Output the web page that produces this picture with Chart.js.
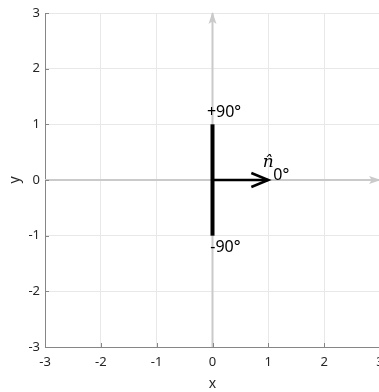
<!DOCTYPE html>
<html>
<head>
<meta charset="utf-8">
<script src="https://cdn.jsdelivr.net/npm/chart.js@4"></script>
<style>
  html, body { margin: 0; padding: 0; background: #fff; overflow: hidden; }
  #wrap { position: absolute; left: 0; top: 0; width: 400px; height: 392px; }
</style>
</head>
<body>
<div id="wrap"><canvas id="c"></canvas></div>
<script>
// ---- data ----
const xTicks = [-3, -2, -1, 0, 1, 2, 3];
const yTicks = [-3, -2, -1, 0, 1, 2, 3];
const xAxisArrowX = [-3, 3];
const xAxisArrowY = [0, 0];
const yAxisArrowX = [0, 0];
const yAxisArrowY = [-3, 3];
const plateX = [0, 0];
const plateY = [-1, 1];
const normalX = [0, 1];
const normalY = [0, 0];
const labelTexts = ['+90°', '-90°', '0°', 'n̂'];
const labelX = [-0.1, -0.04, 1.09, 0.9];
const labelY = [1.21, -1.21, 0.09, 0.32];

const pts = (xs, ys) => xs.map((x, i) => ({ x: x, y: ys[i] }));

const FONT = '"Noto Sans", "Open Sans", sans-serif';
const AXIS = '#868686';
const TXT = '#262626';

const arrowPlugin = {
  id: 'arrows',
  afterDatasetsDraw(chart) {
    const ctx = chart.ctx;
    const xs = chart.scales.x, ys = chart.scales.y;
    chart.data.datasets.forEach((ds) => {
      if (!ds.arrow) return;
      const d = ds.data;
      const a = d[d.length - 2], b = d[d.length - 1];
      const x0 = xs.getPixelForValue(a.x), y0 = ys.getPixelForValue(a.y);
      const x1 = xs.getPixelForValue(b.x), y1 = ys.getPixelForValue(b.y);
      const ang = Math.atan2(y1 - y0, x1 - x0);
      const L = ds.arrow.len, W = ds.arrow.half;
      const bx = x1 - L * Math.cos(ang), by = y1 - L * Math.sin(ang);
      const px = -Math.sin(ang), py = Math.cos(ang);
      ctx.save();
      ctx.strokeStyle = ds.borderColor;
      ctx.fillStyle = ds.borderColor;
      if (ds.arrow.filled) {
        ctx.beginPath();
        ctx.moveTo(x1 + 1 * Math.cos(ang), y1 + 1 * Math.sin(ang));
        ctx.lineTo(bx + W * px, by + W * py);
        ctx.lineTo(bx + (L * 0.25) * Math.cos(ang), by + (L * 0.25) * Math.sin(ang));
        ctx.lineTo(bx - W * px, by - W * py);
        ctx.closePath();
        ctx.fill();
      } else {
        ctx.lineWidth = ds.borderWidth;
        ctx.lineCap = 'butt';
        ctx.lineJoin = 'miter';
        ctx.beginPath();
        ctx.moveTo(bx + W * px, by + W * py);
        ctx.lineTo(x1, y1);
        ctx.lineTo(bx - W * px, by - W * py);
        ctx.stroke();
      }
      ctx.restore();
    });
  },
  afterDraw(chart) {
    const ctx = chart.ctx;
    const xs = chart.scales.x, ys = chart.scales.y;
    const area = chart.chartArea;
    ctx.save();
    // inward tick marks
    ctx.strokeStyle = AXIS;
    ctx.lineWidth = 1;
    ctx.beginPath();
    xTicks.forEach((v) => {
      const p = Math.round(xs.getPixelForValue(v)) + 0.5;
      ctx.moveTo(p, area.bottom);
      ctx.lineTo(p, area.bottom - 4);
    });
    yTicks.forEach((v) => {
      const p = Math.round(ys.getPixelForValue(v)) + 0.5;
      ctx.moveTo(area.left, p);
      ctx.lineTo(area.left + 4, p);
    });
    ctx.stroke();
    // annotations
    ctx.fillStyle = '#000';
    ctx.textAlign = 'left';
    ctx.textBaseline = 'middle';
    labelTexts.forEach((t, i) => {
      ctx.font = (t === 'n̂') ? 'italic 17px "DejaVu Serif", serif' : '16px ' + FONT;
      ctx.fillText(t, xs.getPixelForValue(labelX[i]), ys.getPixelForValue(labelY[i]));
    });
    ctx.restore();
  }
};

new Chart(document.getElementById('c'), {
  type: 'scatter',
  data: {
    datasets: [
      { data: pts(plateX, plateY), showLine: true, borderColor: '#000', borderWidth: 4, pointRadius: 0, order: 1 },
      { data: pts(normalX, normalY), showLine: true, borderColor: '#000', borderWidth: 2.5, pointRadius: 0, order: 1,
        arrow: { len: 17, half: 7, filled: false } },
      { data: pts(xAxisArrowX, xAxisArrowY), showLine: true, borderColor: '#cacaca', borderWidth: 2, pointRadius: 0, order: 3,
        arrow: { len: 11, half: 4, filled: true } },
      { data: pts(yAxisArrowX, yAxisArrowY), showLine: true, borderColor: '#cacaca', borderWidth: 2, pointRadius: 0, order: 3,
        arrow: { len: 11, half: 4, filled: true } }
    ]
  },
  options: {
    responsive: true,
    maintainAspectRatio: false,
    animation: false,
    devicePixelRatio: 1,
    layout: { padding: { top: 13, right: 20, left: 0, bottom: 0 } },
    plugins: { legend: { display: false }, tooltip: { enabled: false } },
    scales: {
      x: {
        type: 'linear', min: -3, max: 3,
        afterFit: (s) => { s.height = 45; },
        afterBuildTicks: (s) => { s.ticks = xTicks.map((v) => ({ value: v })); },
        grid: { color: '#e8e8e8', drawTicks: false, lineWidth: 1 },
        border: { color: AXIS, width: 1 },
        ticks: { color: TXT, font: { family: FONT, size: 13 }, padding: 7, maxRotation: 0 },
        title: { display: true, text: 'x', color: TXT, font: { family: FONT, size: 14 }, padding: { top: 0, bottom: 0 } }
      },
      y: {
        type: 'linear', min: -3, max: 3,
        afterFit: (s) => { s.width = 45; },
        afterBuildTicks: (s) => { s.ticks = yTicks.map((v) => ({ value: v })); },
        grid: { color: '#e8e8e8', drawTicks: false, lineWidth: 1 },
        border: { color: AXIS, width: 1 },
        ticks: { color: TXT, font: { family: FONT, size: 13 }, padding: 5 },
        title: { display: true, text: 'y', color: TXT, font: { family: FONT, size: 14 }, padding: { top: 7, bottom: 0 } }
      }
    }
  },
  plugins: [arrowPlugin]
});
</script>
</body>
</html>
